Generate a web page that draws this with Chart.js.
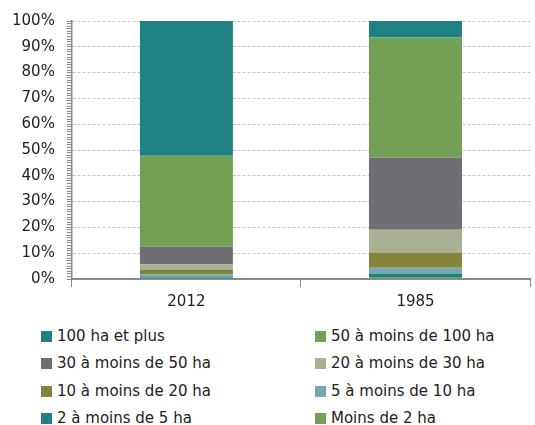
<!DOCTYPE html>
<html>
<head>
<meta charset="utf-8">
<script src="https://cdn.jsdelivr.net/npm/chart.js@4/dist/chart.umd.min.js"></script>
<style>
  body { margin: 0; background: #fff; font-family: "DejaVu Sans", sans-serif; }
  .wrap { position: relative; width: 535px; height: 425px; overflow: hidden; }
  .chart { position: absolute; left: 0; top: 0; width: 535px; height: 317px; }
  .legend { position: absolute; left: 41px; top: 0; width: 494px; }
  .legend .item { position: absolute; font-size: 15px; line-height: 18px; color: #222; white-space: nowrap; }
  .legend .box { display: inline-block; width: 11px; height: 11px; margin-right: 5px; vertical-align: -1px; }
</style>
</head>
<body>
<div class="wrap">
  <div class="chart"><canvas id="barChart"></canvas></div>
  <div class="legend" id="legend"></div>
</div>
<script>
// catégories
const years = ['2012', '1985'];

// séries, du bas vers le haut de la pile (en %)
const labels_series = ['Moins de 2 ha', '2 à moins de 5 ha', '5 à moins de 10 ha', '10 à moins de 20 ha',
    '20 à moins de 30 ha', '30 à moins de 50 ha', '50 à moins de 100 ha', '100 ha et plus'];

const moins_2   = [0.3, 0.8];
const de_2_5    = [0.4, 1.3];
const de_5_10   = [1.1, 2.3];
const de_10_20  = [1.7, 5.9];
const de_20_30  = [2.2, 8.8];
const de_30_50  = [6.8, 28.0];
const de_50_100 = [35.3, 46.5];
const plus_100  = [52.2, 6.4];

const values = [moins_2, de_2_5, de_5_10, de_10_20, de_20_30, de_30_50, de_50_100, plus_100];

const color_lst = ['#72a155', '#1f8184', '#76a7b3', '#858438', '#aab094', '#6f6f73', '#72a155', '#1f8184'];

let datasets = [];
for (let i = 0; i < values.length; i++) {
    datasets.push({
        label: labels_series[i],
        data: values[i],
        backgroundColor: color_lst[i],
        borderWidth: 0,
        barPercentage: 0.406,
        categoryPercentage: 1
    });
}

const ctx = document.querySelector('#barChart').getContext('2d');
new Chart(ctx, {
    type: 'bar',
    data: { labels: years, datasets: datasets },
    options: {
        responsive: true,
        maintainAspectRatio: false,
        animation: false,
        layout: { padding: { top: 21, right: 5, left: 0, bottom: 0 } },
        plugins: { legend: { display: false }, tooltip: { enabled: false } },
        scales: {
            x: {
                stacked: true,
                grid: { display: true, drawOnChartArea: false, color: '#8a8a8a', tickLength: 8, lineWidth: 1 },
                border: { color: '#8a8a8a', width: 2 },
                ticks: { color: '#222', font: { family: 'DejaVu Sans', size: 15 }, padding: 6 }
            },
            y: {
                stacked: true,
                min: 0,
                max: 100,
                grid: {
                    color: (c) => (c.tick && c.tick.value % 10 === 0 && c.tick.value > 0) ? '#c4c4c4' : 'rgba(0,0,0,0)',
                    tickColor: '#8a8a8a',
                    tickLength: 5,
                    lineWidth: 1
                },
                border: { color: '#8a8a8a', width: 1.5, dash: [3, 2] },
                ticks: {
                    stepSize: 1,
                    maxTicksLimit: 200,
                    autoSkip: false,
                    color: '#222',
                    font: { family: 'DejaVu Sans', size: 15 },
                    padding: 12,
                    callback: (v) => v % 10 === 0 ? v + '%' : ''
                }
            }
        }
    }
});

// légende en deux colonnes, dans l'ordre du haut de la pile
const legend = document.querySelector('#legend');
for (let k = 0; k < labels_series.length; k++) {
    const idx = labels_series.length - 1 - k;
    const item = document.createElement('div');
    item.className = 'item';
    item.style.left = (k % 2 === 0 ? 0 : 274) + 'px';
    item.style.top = (327 + Math.floor(k / 2) * 27.3) + 'px';
    item.innerHTML = '<span class="box" style="background:' + color_lst[idx] + '"></span>' + labels_series[idx];
    legend.appendChild(item);
}
</script>
</body>
</html>
